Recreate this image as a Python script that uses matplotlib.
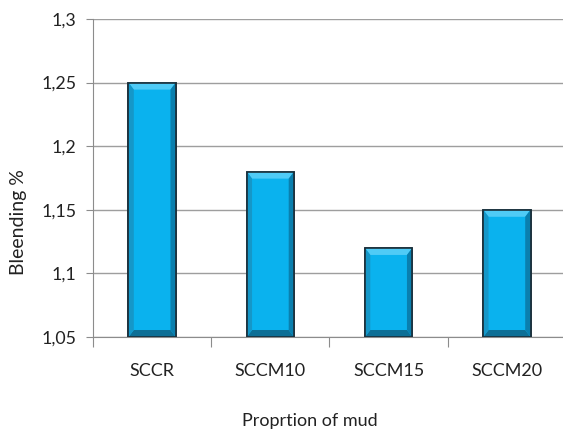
import matplotlib.pyplot as plt
from matplotlib.patches import Polygon
from matplotlib.ticker import FixedLocator, NullFormatter, FuncFormatter
import numpy as np

# Bleeding results per mix
categories = ["SCCR", "SCCM10", "SCCM15", "SCCM20"]
bleeding = [1.25, 1.18, 1.12, 1.15]
y_ticks = [1.05, 1.1, 1.15, 1.2, 1.25, 1.3]

plt.rcParams['font.family'] = ['Lato', 'DejaVu Sans']

fig = plt.figure(figsize=(5.63, 4.34), dpi=100)
ax = fig.add_axes([93 / 563, (434 - 337) / 434, (566 - 93) / 563, (337 - 19) / 434])

YMIN, YMAX = 1.05, 1.3
x = np.arange(len(categories))
width = 0.4
face = '#0AB2EE'

ax.bar(x, np.array(bleeding) - YMIN, bottom=YMIN, width=width,
       color=face, edgecolor='#1B2F3A', linewidth=1.2, zorder=3)

# bevel around each bar
bx = 0.045
by = 0.0055
for xi, v in zip(x, bleeding):
    l, r = xi - width / 2, xi + width / 2
    b, t = YMIN, v
    top = Polygon([(l, t), (r, t), (r - bx, t - by), (l + bx, t - by)],
                  closed=True, facecolor='#4FCBF6', edgecolor='none', zorder=4)
    bot = Polygon([(l, b), (r, b), (r - bx, b + by), (l + bx, b + by)],
                  closed=True, facecolor='#0D6F96', edgecolor='none', zorder=4)
    left = Polygon([(l, b), (l, t), (l + bx, t - by), (l + bx, b + by)],
                   closed=True, facecolor='#1597C8', edgecolor='none', zorder=4)
    right = Polygon([(r, b), (r, t), (r - bx, t - by), (r - bx, b + by)],
                    closed=True, facecolor='#0A7FAE', edgecolor='none', zorder=4)
    for p in (top, bot, left, right):
        ax.add_patch(p)
    ax.add_patch(plt.Rectangle((l, b), width, t - b, fill=False,
                               edgecolor='#1B2F3A', linewidth=1.2, zorder=5))

ax.set_xlim(-0.5, len(categories) - 0.5)
ax.set_ylim(YMIN, YMAX)
ax.set_yticks(y_ticks)
ax.yaxis.set_major_formatter(FuncFormatter(lambda v, p: f"{v:g}".replace('.', ',')))
ax.yaxis.grid(True, color='#9E9E9E', linewidth=1.0, zorder=0)
ax.set_axisbelow(True)

ax.xaxis.set_major_locator(FixedLocator(np.arange(len(categories) + 1) - 0.5))
ax.xaxis.set_major_formatter(NullFormatter())
ax.xaxis.set_minor_locator(FixedLocator(x))
ax.set_xticklabels(categories, minor=True)
ax.tick_params(axis='x', which='major', length=7, color='#8C8C8C', direction='out')
ax.tick_params(axis='x', which='minor', length=0, pad=19, labelsize=13, labelcolor='#222222')
ax.tick_params(axis='y', length=5, color='#8C8C8C', direction='out', pad=7,
               labelsize=12.8, labelcolor='#222222')

for s in ('top', 'right'):
    ax.spines[s].set_visible(False)
for s in ('left', 'bottom'):
    ax.spines[s].set_color('#8C8C8C')

ax.set_ylabel("Bleending %", fontsize=14, color='#222222')
ax.yaxis.set_label_coords(-0.139, 0.36)
fig.text(310 / 563, 1 - 421 / 434, "Proprtion of mud", ha='center', va='center',
         fontsize=13, color='#222222')

fig.savefig("out.png", dpi=100)
